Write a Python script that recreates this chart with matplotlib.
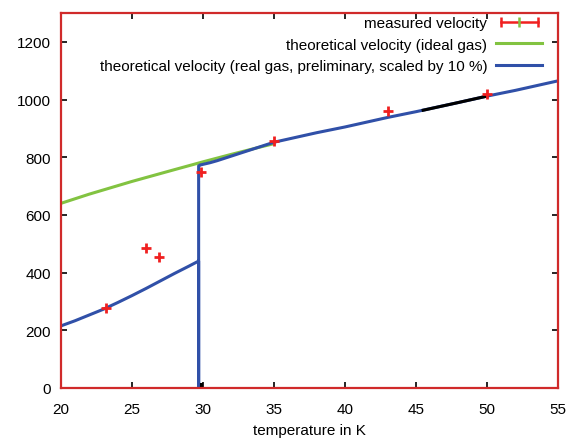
import matplotlib.pyplot as plt
from matplotlib.lines import Line2D
from matplotlib.legend_handler import HandlerLine2D, HandlerTuple

plt.rcParams['font.family'] = ['Liberation Sans', 'DejaVu Sans']
plt.rcParams['font.size'] = 11

# measured points
meas_T = [23.2, 26.0, 26.9, 29.9, 35.0, 43.0, 50.0]
meas_v = [278, 485, 455, 748, 858, 962, 1018]

# ideal gas curve
ideal_T = [20, 22, 25, 28, 30, 32, 34, 35]
ideal_v = [640, 672, 716, 757, 784, 810, 835, 847]

# real gas curve: lower branch, drop to zero at ~29.7 K, then upper branch
real_T = [20, 21, 22, 23, 24, 25, 26, 27, 28, 29, 29.7,
          29.7, 29.7,
          29.8, 30.5, 31, 32, 33, 34, 35, 36, 37, 38, 40, 43, 45, 48, 50, 52, 55]
real_v = [215, 233, 253, 273, 296, 320, 345, 371, 397, 422, 440,
          0, 770,
          773, 781, 788, 804, 820, 836, 852, 863, 874, 885, 905, 938, 958, 990, 1012, 1032, 1065]

# black overlay segment
black_T = [45.5, 48, 50]
black_v = [963, 990, 1012]

fig = plt.figure(figsize=(5.79, 4.39), dpi=100)
ax = fig.add_axes([0.105, 0.114, 0.859, 0.854])

ax.plot(ideal_T, ideal_v, color='#82c341', lw=2.2)
ax.plot(real_T, real_v, color='#3050a8', lw=2.2)
ax.plot(black_T, black_v, color='black', lw=2.2)
ax.plot([29.9, 29.9], [0, 15], color='black', lw=2.2)
ax.plot(meas_T, meas_v, ls='none', marker='+', color='#f02020', ms=7, mew=2.0)

ax.set_xlim(20, 55)
ax.set_ylim(0, 1300)
ax.set_xticks(range(20, 56, 5))
ax.set_yticks(range(0, 1201, 200))
ax.set_xlabel('temperature in K', labelpad=5)

for s in ax.spines.values():
    s.set_color('#d02a2a')
    s.set_linewidth(1.6)
ax.tick_params(direction='in', top=True, right=True, length=4, width=1.2, colors='black')
ax.tick_params(axis='x', pad=10)
ax.tick_params(axis='y', pad=7)

# legend entries
h_meas_red = Line2D([], [], color='#f02020', lw=1.8, marker='|', ms=7, mew=1.8)
h_meas_green = Line2D([], [], color='#82c341', ls='none', marker='|', ms=7, mew=1.8)
h_ideal = Line2D([], [], color='#82c341', lw=2.2)
h_real = Line2D([], [], color='#3050a8', lw=2.2)

ax.legend([(h_meas_red, h_meas_green), h_ideal, h_real],
          ['measured velocity', 'theoretical velocity (ideal gas)',
           'theoretical velocity (real gas, preliminary, scaled by 10 %)'],
          handler_map={tuple: HandlerTuple(ndivide=1),
                       h_meas_red: HandlerLine2D(numpoints=2),
                       h_meas_green: HandlerLine2D(numpoints=1)},
          loc='upper right', bbox_to_anchor=(0.974, 1.0),
          frameon=False, markerfirst=False, fontsize=11,
          handlelength=3.0, borderaxespad=0.0, borderpad=0.2,
          labelspacing=0.5, handletextpad=0.6)

fig.savefig('out.png', dpi=100)
